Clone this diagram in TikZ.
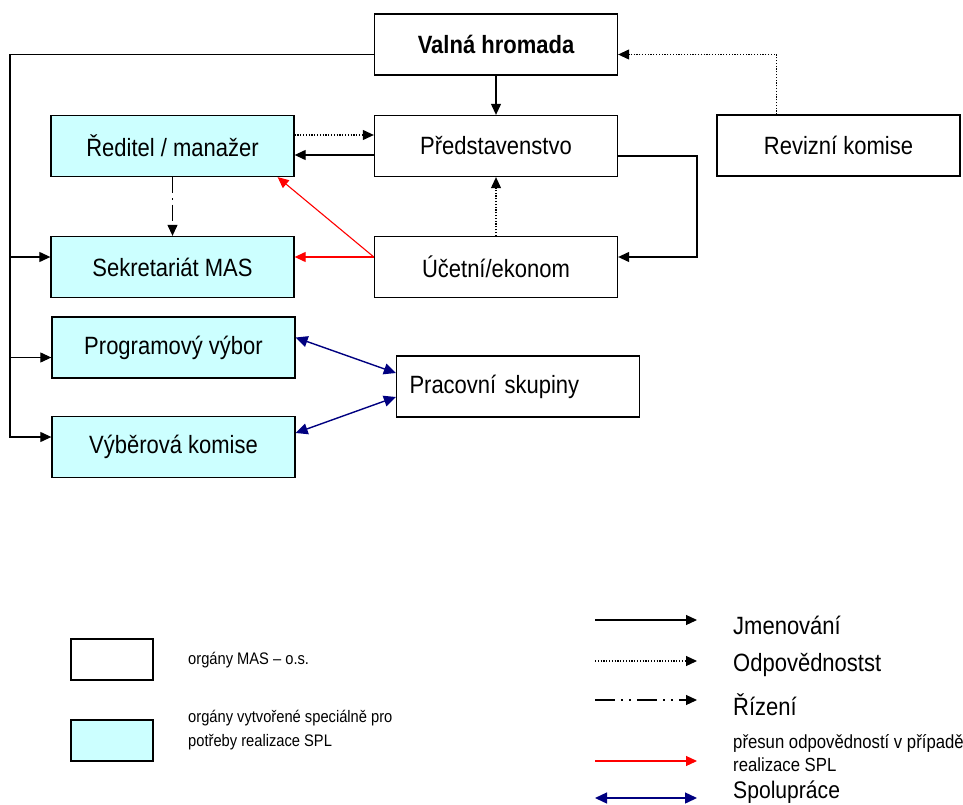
\documentclass[tikz,border=0pt]{standalone}
\usepackage{fontspec}
\setmainfont[FakeStretch=0.88]{Liberation Sans}
\usetikzlibrary{arrows.meta}
\definecolor{splfill}{RGB}{204,255,255}
\definecolor{spolublue}{RGB}{0,0,128}
\tikzset{
  organ/.style={draw, line width=1.3pt, minimum width=243pt, minimum height=61pt,
    inner sep=0pt, font=\fontsize{25}{28}\selectfont},
  organspl/.style={organ, fill=splfill},
  jmen/.style={line width=1.1pt, -{Triangle[length=11pt,width=10pt]}},
  odp/.style={jmen, dash pattern=on 1.2pt off 1.6pt},
  riz/.style={jmen, dash pattern=on 16pt off 5pt on 1.5pt off 5pt},
  rizleg/.style={jmen, dash pattern=on 20pt off 6pt on 2pt off 6pt on 2pt off 6pt},
  presun/.style={jmen, red},
  spoluprace/.style={line width=1.4pt, spolublue,
    {Triangle[length=12pt,width=11pt]}-{Triangle[length=12pt,width=11pt]}},
  legtext/.style={anchor=west, inner sep=0pt, align=left}
}
\begin{document}
\begin{tikzpicture}[x=1pt,y=-1pt]
  \useasboundingbox (0,0) rectangle (963,805);

  % Organy MAS
  \node[organ, font=\fontsize{25}{28}\selectfont\bfseries] (valna) at (496,44.5) {Valná hromada};
  \node[organspl] (reditel) at (172.5,146) {Ředitel / manažer};
  \node[organ] (predst) at (496,146) {Představenstvo};
  \node[organ] (revizni) at (838.5,145.5) {Revizní komise};
  \node[organspl] (sekret) at (172.5,267) {Sekretariát MAS};
  \node[organ] (ucetni) at (496,267) {Účetní/ekonom};
  \node[organspl] (program) at (173.5,347.5) {Programový výbor};
  \node[organspl] (vyber) at (173.5,447) {Výběrová komise};
  \node[organ, align=left, text width=217pt, inner xsep=13pt] (pracovni) at (518,386.5) {Pracovní skupiny};

  % Jmenovani
  \coordinate (bus) at (10,437);
  \coordinate (sekin) at ([yshift=10pt]sekret.west);
  \coordinate (progin) at ([yshift=-10pt]program.west);
  \draw[jmen] ([yshift=-10pt]valna.west) -| (bus) -- ([yshift=10pt]vyber.west);
  \draw[jmen] (bus |- sekin) -- (sekin);
  \draw[jmen] (bus |- progin) -- (progin);
  \draw[jmen] (valna.south) -- (predst.north);
  \draw[jmen] ([yshift=-9pt]predst.west) -- ([yshift=-9pt]reditel.east);
  \coordinate (rbend) at (697,257);
  \draw[jmen] ([yshift=-10pt]predst.east) -| (rbend) -- ([yshift=10pt]ucetni.east);

  % Odpovednost
  \draw[odp] ([yshift=11pt]reditel.east) -- ([yshift=11pt]predst.west);
  \draw[odp] (ucetni.north) -- (predst.south);
  \draw[odp] ([xshift=-62pt]revizni.north) |- ([yshift=-10pt]valna.east);

  % Rizeni
  \draw[riz] (reditel.south) -- (sekret.north);

  % Presun odpovednosti
  \draw[presun] ([yshift=10pt]ucetni.west) -- ([yshift=10pt]sekret.east);
  \draw[presun] ([yshift=10pt]ucetni.west) -- ([xshift=-17pt]reditel.south east);

  % Spoluprace
  \draw[spoluprace] ([yshift=10pt]program.east) -- ([yshift=13.5pt]pracovni.west);
  \draw[spoluprace] ([yshift=14pt]vyber.east) -- ([yshift=-10.5pt]pracovni.west);

  % Legenda
  \node[organ, minimum width=82pt, minimum height=41pt] (legmas) at (112,659.5) {};
  \node[organspl, minimum width=82pt, minimum height=41pt] (legspl) at (112,740.5) {};
  \node[legtext, font=\fontsize{16.7}{24}\selectfont] (legmastext) at (188,660) {orgány MAS – o.s.};
  \node[legtext, font=\fontsize{16.7}{24}\selectfont] (legspltext) at (188,730)
    {orgány vytvořené speciálně pro\\potřeby realizace SPL};

  \coordinate (jmA) at (595,620);   \coordinate (jmB) at (697,620);
  \coordinate (odA) at (595,661);   \coordinate (odB) at (697,661);
  \coordinate (riA) at (595,700);   \coordinate (riB) at (697,700);
  \coordinate (prA) at (595,761);   \coordinate (prB) at (697,761);
  \coordinate (spA) at (595,798);   \coordinate (spB) at (697,798);
  \draw[jmen] (jmA) -- (jmB);
  \draw[odp] (odA) -- (odB);
  \draw[rizleg] (riA) -- (riB);
  \draw[presun] (prA) -- (prB);
  \draw[spoluprace] (spA) -- (spB);

  \node[legtext, font=\fontsize{25}{28}\selectfont] (legjmen) at (733,625) {Jmenování};
  \node[legtext, font=\fontsize{25}{28}\selectfont] (legodp) at (733,665) {Odpovědnostst};
  \node[legtext, font=\fontsize{25}{28}\selectfont] (legriz) at (733,705) {Řízení};
  \node[legtext, font=\fontsize{19}{23}\selectfont] (legpresun) at (733,753.5)
    {přesun odpovědností v případě\\realizace SPL};
  \node[legtext, anchor=base west, font=\fontsize{24}{28}\selectfont] (legspolu) at (733,798) {Spolupráce};
\end{tikzpicture}
\end{document}
